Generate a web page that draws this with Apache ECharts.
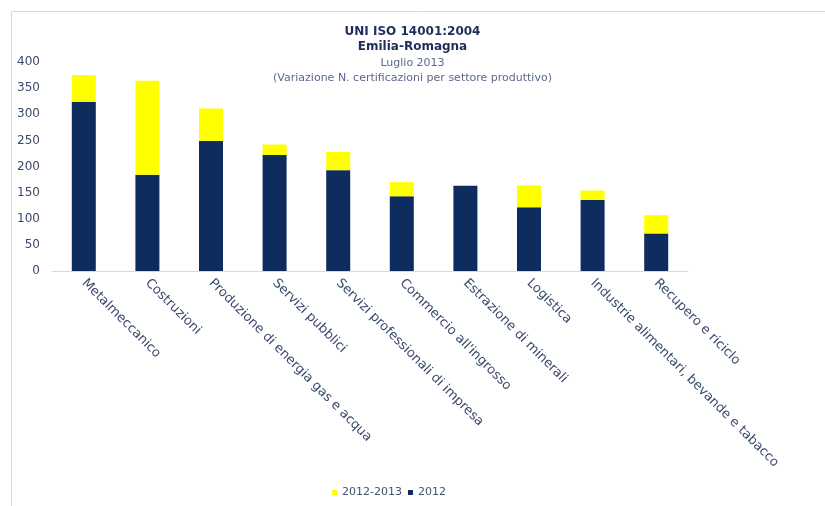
<!DOCTYPE html>
<html>
<head>
<meta charset="utf-8">
<script src="https://cdn.jsdelivr.net/npm/echarts@6/dist/echarts.min.js"></script>
<style>html,body{margin:0;padding:0;background:#fff}#c{width:825px;height:506px}</style>
</head>
<body>
<div id="c"></div>
<script>
const categories = ["Metalmeccanico","Costruzioni","Produzione di energia gas e acqua","Servizi pubblici","Servizi professionali di impresa","Commercio all'ingrosso","Estrazione di minerali","Logistica","Industrie alimentari, bevande e tabacco","Recupero e riciclo"];
const values2012 = [324, 184, 249, 222, 193, 143, 163, 122, 136, 72];
const variation20122013 = [51, 180, 62, 20, 35, 27, 0, 42, 18, 35];
const yTicks = [0, 50, 100, 150, 200, 250, 300, 350, 400];
const titleLines = ["UNI ISO 14001:2004", "Emilia-Romagna", "Luglio 2013", "(Variazione N. certificazioni per settore produttivo)"];

const font = "DejaVu Sans";
const chart = echarts.init(document.getElementById('c'));
chart.setOption({
  animation: false,
  backgroundColor: '#ffffff',
  graphic: [{
    type: 'rect', left: 9, top: 9, shape: {width: 830, height: 510},
    style: {fill: 'none', stroke: '#d9d9d9', lineWidth: 1}, silent: true
  }],
  title: {
    left: 'center', top: 19,
    text: titleLines[0] + '\n' + titleLines[1],
    subtext: titleLines[2] + '\n' + titleLines[3],
    itemGap: 0,
    textStyle: {fontFamily: font, fontSize: 12, fontWeight: 'bold', color: '#1F2D5A', lineHeight: 15.5},
    subtextStyle: {fontFamily: font, fontSize: 11, color: '#5A6A8A', lineHeight: 15.5}
  },
  legend: {
    bottom: 3, left: 327,
    itemWidth: 5, itemHeight: 5, itemGap: 6,
    icon: 'rect',
    textStyle: {fontFamily: font, fontSize: 11, color: '#44546A'},
    data: ['2012-2013', '2012']
  },
  grid: {left: 52, right: 137, top: 62, bottom: 235, containLabel: false},
  xAxis: {
    type: 'category', data: categories,
    axisLine: {lineStyle: {color: '#d9d9d9'}},
    axisTick: {show: false},
    axisLabel: {rotate: -45, interval: 0, margin: 10, fontFamily: font, fontSize: 13, color: '#3A4A6B'}
  },
  yAxis: {
    type: 'value', min: yTicks[0], max: yTicks[yTicks.length - 1], interval: 50,
    splitLine: {show: false},
    axisLine: {show: false},
    axisTick: {show: false},
    axisLabel: {margin: 12, fontFamily: font, fontSize: 12, color: '#3A4A6B'}
  },
  series: [
    {name: '2012', type: 'bar', stack: 't', data: values2012, barWidth: 24,
     itemStyle: {color: '#0E2C5E'}},
    {name: '2012-2013', type: 'bar', stack: 't', data: variation20122013, barWidth: 24,
     itemStyle: {color: '#FFFF00'}}
  ]
});
</script>
</body>
</html>
